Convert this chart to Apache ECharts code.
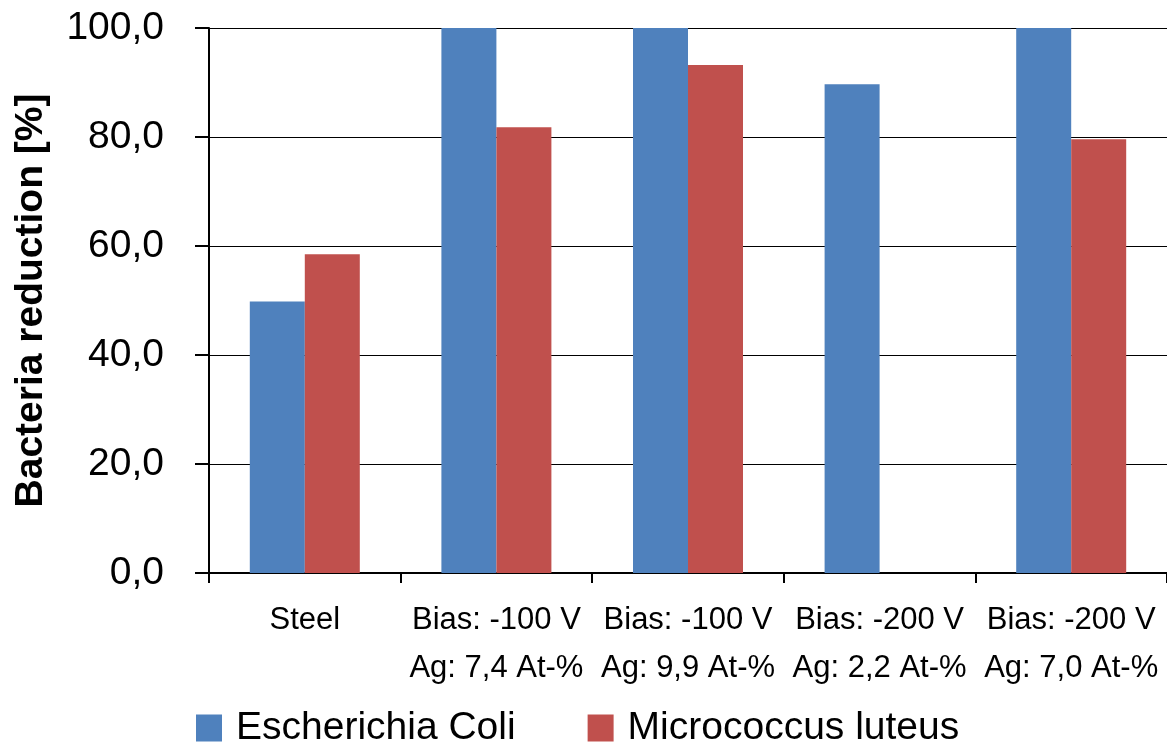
<!DOCTYPE html>
<html>
<head>
<meta charset="utf-8">
<script src="https://cdn.jsdelivr.net/npm/echarts@6/dist/echarts.min.js"></script>
<style>
  html, body { margin: 0; padding: 0; background: #fff; }
  #chart { width: 1167px; height: 745px; }
</style>
</head>
<body>
<div id="chart"></div>
<script>
// Sample groups (two-line category labels)
const categories = [
  'Steel',
  'Bias: -100 V\nAg: 7,4 At-%',
  'Bias: -100 V\nAg: 9,9 At-%',
  'Bias: -200 V\nAg: 2,2 At-%',
  'Bias: -200 V\nAg: 7,0 At-%'
];

// Bacteria reduction in percent
const ecoli = [49.8, 100.0, 100.0, 89.7, 100.0];
const mluteus = [58.5, 81.8, 93.2, 0, 79.6];

const seriesNames = ['Escherichia Coli', 'Micrococcus luteus'];
const yTicks = [0, 20, 40, 60, 80, 100];

const FONT = 'Liberation Sans';
const chart = echarts.init(document.getElementById('chart'));

chart.setOption({
  animation: false,
  backgroundColor: '#ffffff',
  grid: { left: 209, right: 0, top: 28, bottom: 172, containLabel: false },
  legend: {
    data: seriesNames,
    left: 196,
    top: 708,
    padding: 0,
    itemWidth: 26,
    itemHeight: 27,
    itemGap: 72,
    icon: 'rect',
    textStyle: { fontFamily: FONT, fontSize: 39, lineHeight: 40, color: '#000', padding: [0, 0, 0, 9] }
  },
  xAxis: {
    type: 'category',
    data: categories,
    axisLine: { lineStyle: { color: '#000', width: 2 } },
    axisTick: { show: true, length: 10, lineStyle: { color: '#000', width: 2 } },
    axisLabel: {
      fontFamily: FONT,
      fontSize: 31,
      color: '#000',
      lineHeight: 48,
      margin: 23,
      interval: 0
    }
  },
  yAxis: {
    type: 'value',
    min: yTicks[0],
    max: yTicks[yTicks.length - 1],
    interval: 20,
    name: 'Bacteria reduction [%]',
    nameLocation: 'middle',
    nameGap: 158,
    nameTextStyle: { fontFamily: FONT, fontSize: 39, fontWeight: 'bold', color: '#000' },
    axisLine: { show: true, lineStyle: { color: '#000', width: 2 } },
    axisTick: { show: true, length: 14, lineStyle: { color: '#000', width: 2 } },
    splitLine: { show: true, lineStyle: { color: '#000', width: 1 } },
    axisLabel: {
      fontFamily: FONT,
      fontSize: 39,
      color: '#000',
      margin: 45,
      formatter: v => v.toFixed(1).replace('.', ',')
    }
  },
  series: [
    {
      name: seriesNames[0],
      type: 'bar',
      data: ecoli,
      barWidth: 55,
      barGap: '0%',
      itemStyle: { color: '#4F81BD' }
    },
    {
      name: seriesNames[1],
      type: 'bar',
      data: mluteus,
      barWidth: 55,
      itemStyle: { color: '#C0504D' }
    }
  ]
});
</script>
</body>
</html>
